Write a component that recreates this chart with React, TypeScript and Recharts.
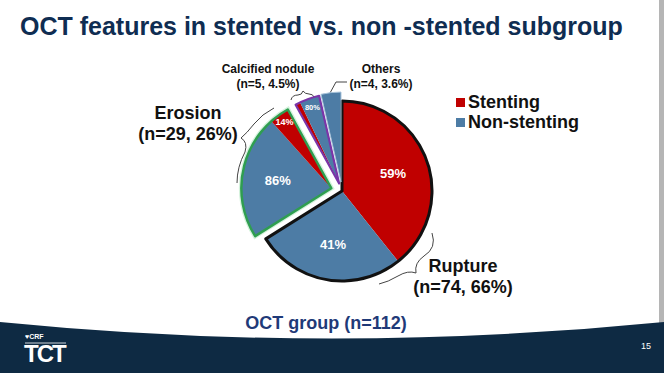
import { PieChart, Pie, Cell } from "recharts";

// ─── Data ─────────────────────────────────────────────────────────────────────

const GROUPS = ["Rupture", "Erosion", "Calcified nodule", "Others"];
const GROUP_N = [74, 29, 5, 4];
const GROUP_PCT = ["66%", "26%", "4.5%", "3.6%"];
const STENTING_N = [44, 4, 1, 0];
const SERIES = ["Stenting", "Non-stenting"];
const TITLE = "OCT features in stented vs. non -stented subgroup";
const SUBTITLE = "OCT group (n=112)";

// ─── Styling ──────────────────────────────────────────────────────────────────

const RED = "#c00000";
const BLUE = "#4d7ca5";
const FONT = "'Liberation Sans', Arial, sans-serif";
const CX = 342;
const CY = 191;
const R = 90;
const STENT_FIRST = [true, false, true, true];
const EXPLODE = [0, 11, 8, 9];
const OUTLINE = ["#111111", "#2f9e50", "#7a35a8", "#a8c3da"];
const OUTLINE_W = [3, 2.5, 2.2, 1];
const RAD = Math.PI / 180;

const total = GROUP_N.reduce((a, b) => a + b, 0);
let cum = 0;
const pies = GROUP_N.map((n, gi) => {
  const start = 90 - (cum / total) * 360;
  cum += n;
  const end = 90 - (cum / total) * 360;
  const mid = ((start + end) / 2) * RAD;
  const stent = { name: SERIES[0], value: STENTING_N[gi], fill: RED };
  const non = { name: SERIES[1], value: n - STENTING_N[gi], fill: BLUE };
  const slices = (STENT_FIRST[gi] ? [stent, non] : [non, stent]).filter((s) => s.value > 0);
  return {
    gi,
    n,
    start,
    end,
    cx: CX + EXPLODE[gi] * Math.cos(mid),
    cy: CY - EXPLODE[gi] * Math.sin(mid),
    slices,
  };
});

const renderLabel = (gi: number) => (p: any) => {
  if (p.percent >= 0.999 || p.value < 2) return null;
  const big = gi < 2 && p.percent > 0.3;
  const r = p.outerRadius * (big ? 0.6 : 0.9);
  const a = -p.midAngle * RAD;
  return (
    <text
      x={p.cx + r * Math.cos(a)}
      y={p.cy + r * Math.sin(a)}
      fill="#fff"
      fontSize={big ? 13 : gi < 2 ? 9 : 7.5}
      fontWeight="bold"
      fontFamily={FONT}
      textAnchor="middle"
      dominantBaseline="central"
    >
      {Math.round(p.percent * 100)}%
    </text>
  );
};

const abs = (left: number, top: number, extra: any = {}) => ({
  position: "absolute" as const,
  left,
  top,
  whiteSpace: "nowrap" as const,
  ...extra,
});

export default function App() {
  return (
    <div
      style={{
        position: "fixed",
        left: 0,
        top: 0,
        width: 664,
        height: 373,
        background: "#fff",
        overflow: "hidden",
        fontFamily: FONT,
      }}
    >
      {/* slide background: footer band, braces */}
      <svg width={664} height={373} style={{ position: "absolute", left: 0, top: 0 }}>
        <rect x={659} y={0} width={5} height={330} fill="#b5b5b5" />
        <path d="M0,322 Q332,355 664,322 L664,373 L0,373 Z" fill="#0e2a43" />
        <line x1={25} y1={343} x2={66} y2={343} stroke="#fff" strokeWidth={0.8} />
        <g fill="none" stroke="#444" strokeWidth={1}>
          <path d="M274 108 Q262 114 254 124 Q247 133 241 138 Q248 142 245 152 Q237 167 237 183" />
          <path d="M432 233 Q437 248 424 256 Q414 263 416 273 Q408 270 398 276 Q388 282 379 284" />
          <path d="M291 100 Q292 95 298 95 Q302 95 303 91 Q305 94 309 94 Q313 94 314 97" />
          <path d="M330 93 L336 82 L347 82" />
        </g>
      </svg>

      <div style={{ position: "absolute", left: 0, top: 0 }}>
        <PieChart width={664} height={373} margin={{ top: 0, right: 0, bottom: 0, left: 0 }}>
          {/* light halo round the erosion slice */}
          <Pie
            data={[{ name: "halo", value: 1 }]}
            dataKey="value"
            cx={pies[1].cx}
            cy={pies[1].cy}
            innerRadius={0}
            outerRadius={R}
            startAngle={pies[1].start}
            endAngle={pies[1].end}
            fill="none"
            stroke="#d4f2dc"
            strokeWidth={5}
            isAnimationActive={false}
          />
          {pies.map((p) => (
            <Pie
              key={`s${p.gi}`}
              data={p.slices}
              dataKey="value"
              nameKey="name"
              cx={p.cx}
              cy={p.cy}
              innerRadius={0}
              outerRadius={R}
              startAngle={p.start}
              endAngle={p.end}
              stroke="none"
              labelLine={false}
              label={renderLabel(p.gi)}
              isAnimationActive={false}
            >
              {p.slices.map((s, i) => (
                <Cell key={i} fill={s.fill} />
              ))}
            </Pie>
          ))}
          {pies.map((p) => (
            <Pie
              key={`o${p.gi}`}
              data={[{ name: GROUPS[p.gi], value: p.n }]}
              dataKey="value"
              cx={p.cx}
              cy={p.cy}
              innerRadius={0}
              outerRadius={R}
              startAngle={p.start}
              endAngle={p.end}
              fill="none"
              stroke={OUTLINE[p.gi]}
              strokeWidth={OUTLINE_W[p.gi]}
              strokeLinejoin="round"
              isAnimationActive={false}
            />
          ))}
        </PieChart>
      </div>

      {/* title */}
      <div style={abs(20, 12, { fontSize: 25, fontWeight: "bold", color: "#0f2d52" })}>{TITLE}</div>

      {/* group annotations */}
      <div style={abs(132, 103, { width: 112, textAlign: "center", fontSize: 18, fontWeight: "bold", lineHeight: "21px", color: "#111" })}>
        {GROUPS[1]}
        <br />({"n=" + GROUP_N[1]}, {GROUP_PCT[1]})
      </div>
      <div style={abs(407, 256, { width: 112, textAlign: "center", fontSize: 18, fontWeight: "bold", lineHeight: "21px", color: "#111" })}>
        {GROUPS[0]}
        <br />({"n=" + GROUP_N[0]}, {GROUP_PCT[0]})
      </div>
      <div style={abs(213, 62, { width: 110, textAlign: "center", fontSize: 12, fontWeight: "bold", lineHeight: "15px", color: "#111" })}>
        {GROUPS[2]}
        <br />({"n=" + GROUP_N[2]}, {GROUP_PCT[2]})
      </div>
      <div style={abs(342, 62, { width: 78, textAlign: "center", fontSize: 12, fontWeight: "bold", lineHeight: "15px", color: "#111" })}>
        {GROUPS[3]}
        <br />({"n=" + GROUP_N[3]}, {GROUP_PCT[3]})
      </div>

      {/* legend */}
      {SERIES.map((s, i) => (
        <div key={s} style={abs(456, 92 + i * 20, { fontSize: 18, fontWeight: "bold", color: "#111", lineHeight: "20px", display: "flex", alignItems: "center" })}>
          <span style={{ display: "inline-block", width: 9, height: 9, background: i === 0 ? RED : BLUE, marginRight: 3 }} />
          {s}
        </div>
      ))}

      {/* group total */}
      <div style={abs(0, 313, { width: 652, textAlign: "center", fontSize: 18, fontWeight: "bold", color: "#1f3a78" })}>{SUBTITLE}</div>

      {/* footer */}
      <div style={abs(25, 333, { fontSize: 7, fontWeight: "bold", color: "#fff" })}>♥CRF</div>
      <div style={abs(24, 340, { fontSize: 24, fontWeight: "bold", color: "#fff", letterSpacing: -2 })}>TCT</div>
      <div style={abs(641, 341, { fontSize: 9, color: "#fff" })}>15</div>
    </div>
  );
}
